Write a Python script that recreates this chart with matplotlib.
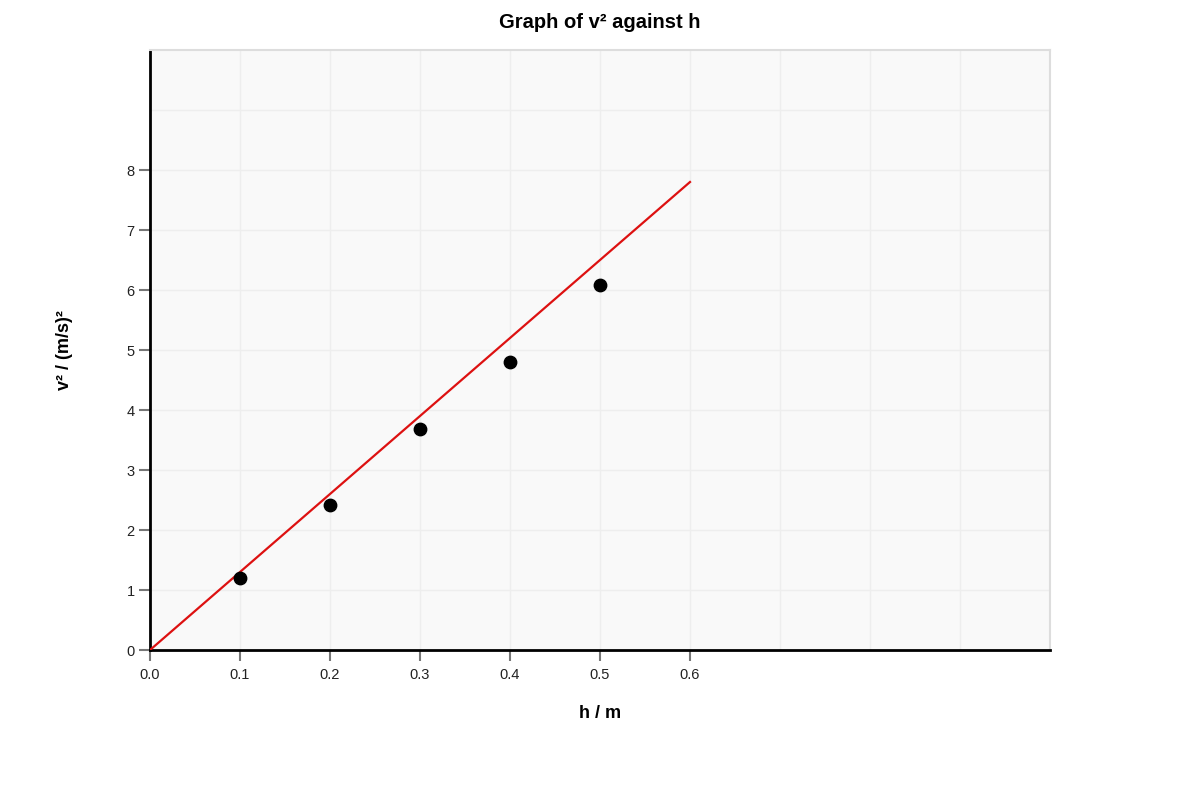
import matplotlib
matplotlib.use("Agg")
import matplotlib.pyplot as plt
import numpy as np

plt.rcParams['font.family'] = ['Liberation Sans', 'DejaVu Sans']

h = [0.1, 0.2, 0.3, 0.4, 0.5]
v2 = [1.2, 2.42, 3.68, 4.8, 6.08]
fit_h = [0.0, 0.6]
fit_v2 = [0.0, 7.8]
xtick_vals = [0.0, 0.1, 0.2, 0.3, 0.4, 0.5, 0.6]
ytick_vals = [0, 1, 2, 3, 4, 5, 6, 7, 8]
xgrid_vals = [0.1, 0.2, 0.3, 0.4, 0.5, 0.6, 0.7, 0.8, 0.9]
ygrid_vals = [1, 2, 3, 4, 5, 6, 7, 8, 9]

fig = plt.figure(figsize=(12, 8), dpi=100)
ax = fig.add_axes([0.125, 0.1875, 0.75, 0.75])
ax.set_facecolor('#f9f9f9')
ax.set_xlim(0, 1.0)
ax.set_ylim(0, 10)

ax.set_xticks(xtick_vals)
ax.set_xticklabels([f"{v:.1f}" for v in xtick_vals])
ax.set_yticks(ytick_vals)
ax.set_yticklabels([str(v) for v in ytick_vals])
ax.tick_params(which='major', length=8, width=1.5, color='#777777', labelsize=10.5, labelcolor='#222222')
ax.tick_params(axis='x', which='major', pad=5)
ax.tick_params(axis='y', which='major', pad=3)

for xv in xgrid_vals:
    ax.axvline(xv, color='#eeeeee', linewidth=1, zorder=0.5)
for yv in ygrid_vals:
    ax.axhline(yv, color='#eeeeee', linewidth=1, zorder=0.5)

for s in ['top', 'right']:
    ax.spines[s].set_color('#dddddd')
    ax.spines[s].set_linewidth(1.5)
for s in ['left', 'bottom']:
    ax.spines[s].set_color('black')
    ax.spines[s].set_linewidth(2)

ax.plot(fit_h, fit_v2, color='#dd1111', linewidth=1.6, zorder=3)
ax.scatter(h, v2, s=80, color='black', zorder=4)

fig.text(0.5, 0.972, 'Graph of v² against h', ha='center', va='center', fontsize=14.5, fontweight='bold')
fig.text(0.5, 0.108, 'h / m', ha='center', va='center', fontsize=13, fontweight='bold')
fig.text(0.054, 0.5625, 'v² / (m/s)²', ha='center', va='center', fontsize=13, fontweight='bold', rotation=90)

fig.savefig('out.png', dpi=100)
